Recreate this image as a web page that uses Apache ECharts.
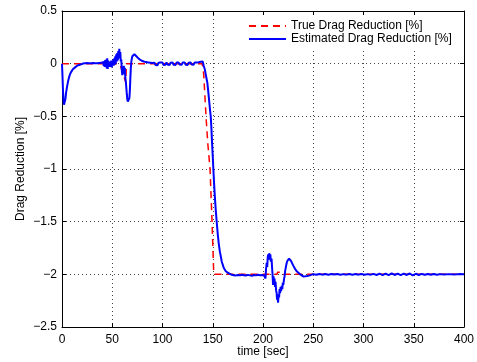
<!DOCTYPE html>
<html>
<head>
<meta charset="utf-8">
<script src="https://cdn.jsdelivr.net/npm/echarts@6/dist/echarts.min.js"></script>
<style>
  html, body { margin: 0; padding: 0; background: #fff; }
  #chart { width: 477px; height: 362px; }
</style>
</head>
<body>
<div id="chart"></div>
<script>
// axis ticks
var xTicks = [0, 50, 100, 150, 200, 250, 300, 350, 400]
var yTicks = [-2.5, -2, -1.5, -1, -0.5, 0, 0.5]

// true drag reduction (red dashed)
var trueTime = [0, 57, 58.5, 63.5, 64, 139.5, 141, 143.3, 145, 147.3, 149.3, 151, 214, 214.5, 220, 220.5, 400]
var trueValue = [0, 0, -0.03, -0.18, 0, 0, -0.1, -0.5, -0.75, -1.0, -1.5, -2, -2, -1.98, -1.98, -2, -2]

// estimated drag reduction (blue)
var estTime = [
  0, 0.5, 1, 1.5, 2, 2.5, 3, 3.5, 4, 5, 6, 7, 8, 9, 10, 11, 12, 13, 14, 15, 16, 17, 18, 19, 20,
  21, 22, 23, 24, 25, 26, 27, 28, 29, 30, 31, 32, 33, 34, 35, 36, 37, 38, 39, 40,
  41, 41.5, 42, 42.5, 43, 43.5, 44, 44.5, 45, 45.5, 46, 46.5, 47, 47.5, 48, 48.5, 49, 49.5, 50, 50.5,
  51, 51.5, 52, 52.5, 53, 53.5, 54, 54.5, 55, 55.5, 56, 56.5, 57, 57.5, 58, 58.5, 59, 59.5, 60, 60.5,
  61, 61.5, 62, 62.5, 63, 63.5, 64, 64.5, 65, 65.5, 66, 66.5, 67, 67.5, 68, 68.5, 69, 69.5, 70,
  71, 72, 73, 74, 75, 76, 77, 78, 79, 80, 81, 82, 83, 84, 85, 86, 87, 88, 89, 90,
  91, 92, 93, 94, 95, 96, 97, 98, 99, 100, 101, 102, 103, 104, 105, 106, 107, 108, 109, 110,
  111, 112, 113, 114, 115, 116, 117, 118, 119, 120, 121, 122, 123, 124, 125, 126, 127, 128, 129, 130,
  131, 132, 133, 134, 135, 136, 137, 138, 138.5, 139, 139.5, 140,
  141, 142, 143, 144, 144.6, 145.5, 146.5, 147.3, 148, 148.7, 149.3, 150, 150.6, 151.3, 152, 153, 154, 155,
  156, 157, 158, 159, 160, 161, 162, 163, 164, 165, 166, 167, 168,
  169, 170, 171, 172, 173, 174, 175, 176, 177, 178, 179, 180, 181, 182, 183, 184, 185,
  186, 187, 188, 189, 190, 191, 192, 193, 194, 195, 196, 197, 198, 199, 200, 201, 202,
  202.5, 203, 203.7, 204.2, 204.7, 205.2, 205.7, 206.2, 206.8, 207.3, 207.8, 208.5, 209, 209.5, 210,
  210.5, 211, 211.5, 212, 212.5, 213, 213.6, 214, 214.5, 215, 215.5, 216, 216.5, 217, 217.5, 218,
  218.6, 219.2, 219.7, 220.2, 221, 221.5, 222, 223, 223.6, 224.4, 225.2, 226, 227, 228, 229, 230,
  231, 232, 233.5, 235, 237, 238.5, 240, 242, 244, 246.5, 248,
  250, 253, 256, 259, 262, 265, 268, 271, 274, 277, 280, 283, 286, 289, 292, 295, 298, 301, 304, 307,
  310, 313, 316, 319, 322, 325, 328, 331, 334, 337, 340, 343, 346, 349, 352, 355, 358, 361, 364, 367,
  370, 373, 376, 380, 385, 390, 395, 400
]
var estValue = [
  0, -0.12, -0.26, -0.35, -0.39, -0.40, -0.38, -0.33, -0.28, -0.22, -0.17, -0.13, -0.10, -0.08, -0.065, -0.05, -0.045, -0.035, -0.03, -0.02, -0.022, -0.012, -0.015, -0.006, -0.01,
  0.002, -0.006, 0.004, -0.004, 0.006, -0.003, 0.005, -0.005, 0.004, -0.002, 0.006, -0.004, 0.003, -0.006, 0.005, -0.004, 0.007, -0.006, 0.008, -0.01,
  0.015, -0.02, 0.025, -0.03, 0.035, -0.025, 0.04, -0.045, 0.05, -0.05, 0.03, -0.02, 0.02, -0.03, 0.015, -0.02, 0.03, -0.035, 0.025, -0.015,
  0.04, -0.02, 0.05, -0.01, 0.07, 0.0, 0.09, 0.02, 0.1, 0.03, 0.12, 0.05, 0.14, 0.06, 0.11, 0.02, 0.04, -0.06, -0.11, -0.03,
  -0.06, -0.02, -0.1, -0.04, -0.13, -0.17, -0.23, -0.29, -0.34, -0.36, -0.35, -0.36, -0.33, -0.26, -0.14, -0.04, 0.02, 0.05, 0.07,
  0.085, 0.09, 0.085, 0.07, 0.06, 0.05, 0.04, 0.035, 0.03, 0.025, 0.02, 0.018, 0.012, 0.015, 0.008, 0.01, 0.004, 0.008, -0.002, 0.006,
  -0.008, 0.01, -0.012, 0.006, -0.015, 0.008, -0.01, 0.012, -0.006, 0.01, -0.012, 0.005, -0.01, 0.012, -0.008, 0.004, -0.014, 0.009, -0.006, 0.011,
  -0.01, 0.007, -0.012, 0.01, -0.005, 0.012, -0.009, 0.006, -0.011, 0.01, -0.007, 0.012, -0.01, 0.005, -0.012, 0.009, -0.006, 0.011, -0.009, 0.007,
  -0.01, 0.012, -0.006, 0.01, -0.008, 0.013, -0.005, 0.018, 0.0, 0.025, 0.005, 0.02,
  -0.02, -0.05, -0.1, -0.15, -0.18, -0.26, -0.36, -0.44, -0.5, -0.62, -0.75, -0.88, -1.0, -1.13, -1.25, -1.39, -1.51, -1.62,
  -1.71, -1.78, -1.83, -1.88, -1.91, -1.94, -1.95, -1.97, -1.96, -1.985, -1.975, -1.995, -1.985,
  -2.005, -1.99, -2.008, -1.995, -2.01, -1.993, -2.006, -1.996, -2.01, -1.994, -2.004, -1.992, -2.008, -1.997, -2.012, -1.995, -2.005,
  -1.99, -2.01, -1.993, -2.014, -1.996, -2.006, -1.994, -2.01, -1.997, -2.004, -1.995, -2.008, -1.993, -2.006, -1.996, -2.01, -2.02,
  -2.04, -1.95, -1.89, -1.93, -1.84, -1.81, -1.86, -1.8, -1.84, -1.81, -1.88, -1.85, -1.93, -2.0, -2.1,
  -2.02, -2.08, -2.04, -2.12, -2.07, -2.15, -2.18, -2.24, -2.2, -2.27, -2.19, -2.22, -2.14, -2.18, -2.12, -2.16,
  -2.11, -2.14, -2.08, -2.1, -2.04, -2.02, -1.97, -1.92, -1.89, -1.87, -1.855, -1.85, -1.86, -1.875, -1.89, -1.915,
  -1.93, -1.95, -1.97, -1.985, -2.0, -2.012, -2.02, -2.018, -2.015, -2.01, -2.004,
  -1.998, -2.004, -1.996, -2.003, -1.997, -2.004, -1.996, -2.002, -1.997, -2.004, -1.998, -2.003, -1.996, -2.004, -1.997, -2.003, -1.996, -2.004, -1.998, -2.003,
  -1.996, -2.006, -1.994, -2.007, -1.993, -2.008, -1.992, -2.006, -1.993, -2.008, -1.994, -2.006, -1.992, -2.009, -1.995, -2.006, -1.996, -2.004, -1.997, -2.003,
  -1.997, -2.004, -1.998, -2.002, -1.998, -2.002, -1.998, -2.0
]

function zip(a, b) {
  var out = []
  for (var i = 0; i < a.length; i++) out.push([a[i], b[i]])
  return out
}

var font = 'Liberation Sans, Arial, Helvetica, sans-serif'
var chart = echarts.init(document.getElementById('chart'))

var xBase = {
  type: 'value',
  min: xTicks[0],
  max: xTicks[xTicks.length - 1],
  interval: 50,
  axisLine: { show: true, onZero: false, lineStyle: { color: '#000', width: 1 } },
  axisTick: { show: true, inside: true, length: 4, lineStyle: { color: '#000' } }
}
var yBase = {
  type: 'value',
  min: yTicks[0],
  max: yTicks[yTicks.length - 1],
  interval: 0.5,
  axisLine: { show: true, onZero: false, lineStyle: { color: '#000', width: 1 } },
  axisTick: { show: true, inside: true, length: 4, lineStyle: { color: '#000' } }
}

chart.setOption({
  animation: false,
  backgroundColor: '#fff',
  textStyle: { fontFamily: font },
  grid: { left: 62, right: 13, top: 11, bottom: 35, outerBoundsMode: 'none' },
  legend: {
    orient: 'vertical',
    left: 238,
    top: 15,
    padding: [5, 10, 5, 10],
    backgroundColor: '#fff',
    itemWidth: 37,
    itemHeight: 14,
    itemGap: 1,
    itemStyle: { opacity: 0 },
    textStyle: { fontSize: 12, color: '#000', fontFamily: font },
    data: ['True Drag Reduction [%]', 'Estimated Drag Reduction [%]']
  },
  xAxis: [
    Object.assign({}, xBase, {
      position: 'bottom',
      name: 'time [sec]',
      nameLocation: 'middle',
      nameGap: 19,
      nameMoveOverlap: false,
      nameTextStyle: { fontSize: 12, color: '#000', fontFamily: font },
      axisLabel: { show: true, margin: 7, fontSize: 12, color: '#000', fontFamily: font },
      splitLine: { show: true, lineStyle: { color: '#444', width: 1, type: [1, 3] } }
    }),
    Object.assign({}, xBase, {
      position: 'top',
      axisLabel: { show: false },
      splitLine: { show: false }
    })
  ],
  yAxis: [
    Object.assign({}, yBase, {
      position: 'left',
      name: 'Drag Reduction [%]',
      nameLocation: 'middle',
      nameGap: 35,
      nameMoveOverlap: false,
      nameTextStyle: { fontSize: 12, color: '#000', fontFamily: font },
      axisLabel: {
        show: true, margin: 5, fontSize: 12, color: '#000', fontFamily: font,
        formatter: function (v) { return String(v).replace('-', '\u2212') }
      },
      splitLine: { show: true, lineStyle: { color: '#444', width: 1, type: [1, 3] } }
    }),
    Object.assign({}, yBase, {
      position: 'right',
      axisLabel: { show: false },
      splitLine: { show: false }
    })
  ],
  series: [
    {
      name: 'True Drag Reduction [%]',
      type: 'line',
      xAxisIndex: 0,
      yAxisIndex: 0,
      symbol: 'none',
      data: zip(trueTime, trueValue),
      lineStyle: { color: '#ff0000', width: 1.5, type: [7, 5] },
      itemStyle: { color: '#ff0000' },
      z: 2
    },
    {
      name: 'Estimated Drag Reduction [%]',
      type: 'line',
      xAxisIndex: 0,
      yAxisIndex: 0,
      symbol: 'none',
      data: zip(estTime, estValue),
      lineStyle: { color: '#0000ff', width: 2 },
      itemStyle: { color: '#0000ff' },
      z: 3
    }
  ]
})
</script>
</body>
</html>
